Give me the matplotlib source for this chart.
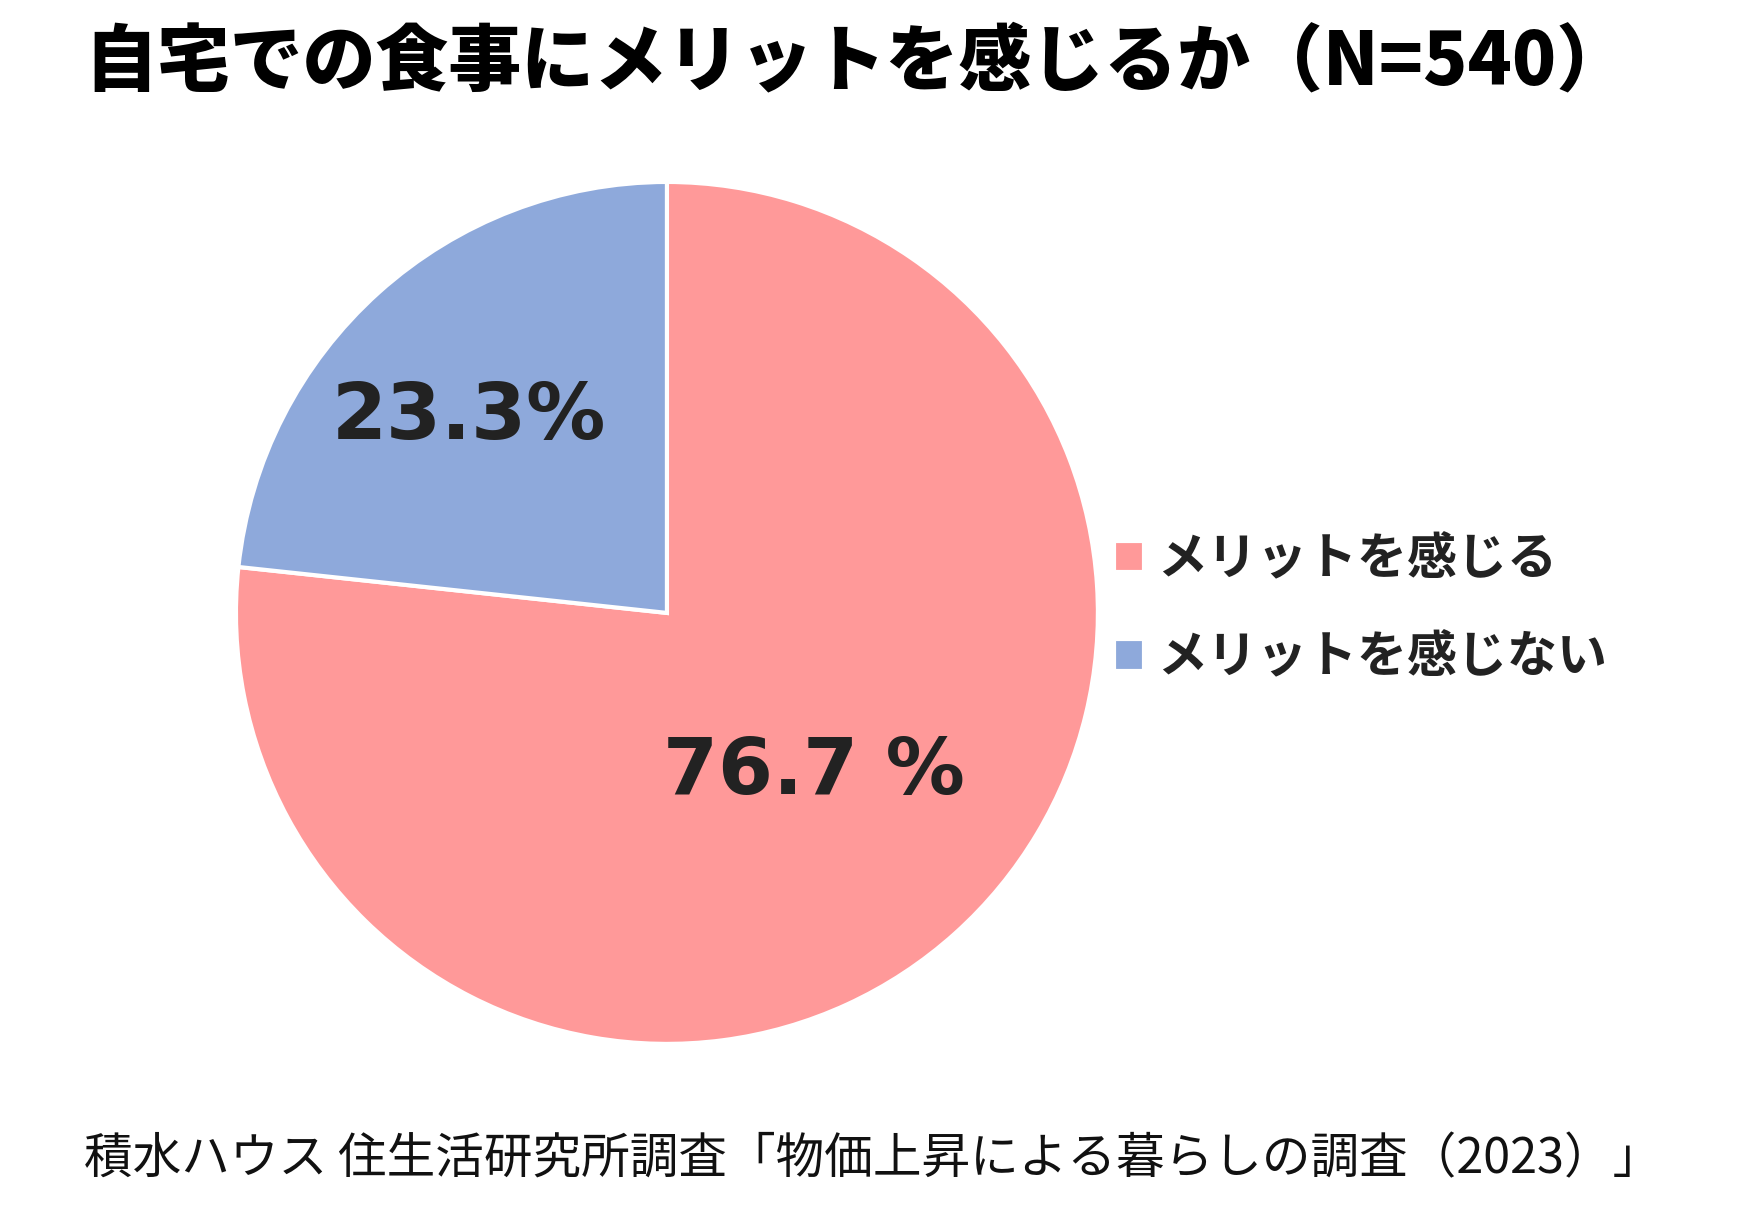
import matplotlib
matplotlib.use("Agg")
import matplotlib.pyplot as plt

plt.rcParams["font.family"] = ["Noto Sans CJK JP", "DejaVu Sans"]

# data
categories = ["メリットを感じる", "メリットを感じない"]
shares = [76.7, 23.3]
value_labels = ["76.7 %", "23.3%"]
colors = ["#FF9999", "#8EA9DB"]

title = "自宅での食事にメリットを感じるか（N=540）"
source = "積水ハウス 住生活研究所調査「物価上昇による暮らしの調査（2023）」"

# where the value labels sit, in pie-radius units
label_pos = [(0.34, -0.37), (-0.46, 0.455)]

fig = plt.figure(figsize=(17.53, 12.25), dpi=100)
fig.patch.set_facecolor("white")

# pie axes: center (667, 613) px, radius 431 px
ax = fig.add_axes([0.1346, 0.1478, 0.4917, 0.7037])
wedges, _ = ax.pie(
    shares,
    colors=colors,
    startangle=90,
    counterclock=False,
    radius=1.0,
    wedgeprops=dict(edgecolor="white", linewidth=3),
)
ax.set_xlim(-1.0, 1.0)
ax.set_ylim(-1.0, 1.0)
ax.set_aspect("equal")
ax.axis("off")

for (x, y), txt in zip(label_pos, value_labels):
    ax.text(x, y, txt, ha="center", va="center", fontsize=57,
            fontweight="bold", color="#222222", family=["DejaVu Sans"])

leg = fig.legend(
    wedges, categories,
    loc="center left", bbox_to_anchor=(0.61, 0.503),
    frameon=False,
    handlelength=0.6, handleheight=0.6, handletextpad=0.25,
    labelspacing=0.95,
    prop=dict(size=36, weight="bold"),
)
for t in leg.get_texts():
    t.set_color("#222222")

fig.text(0.048, 1 - 62 / 1225, title, ha="left", va="center",
         fontsize=52.5, fontweight="black", color="black")
fig.text(0.048, 1 - 1160 / 1225, source, ha="left", va="center",
         fontsize=35, color="#111111")

fig.savefig("out.png", dpi=100)
